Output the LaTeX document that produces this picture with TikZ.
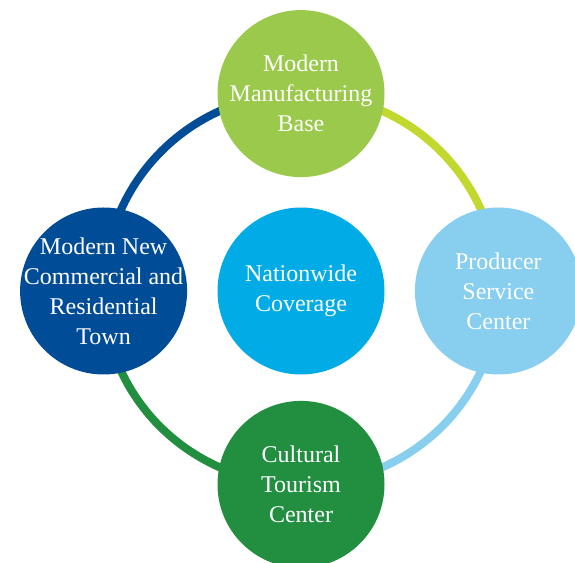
\documentclass[tikz,border=0pt]{standalone}
\usepackage{fontspec}
\setmainfont{Liberation Serif}
\usepackage{xcolor}
\usetikzlibrary{positioning, backgrounds}

\definecolor{mfggreen}{HTML}{9AC94B}
\definecolor{limearc}{HTML}{C2D82F}
\definecolor{skyblue}{HTML}{87CEEF}
\definecolor{tourgreen}{HTML}{218F3F}
\definecolor{townblue}{HTML}{004C97}
\definecolor{coreblue}{HTML}{00ABE6}

\begin{document}
\begin{tikzpicture}[x=1pt, y=1pt, node distance = 30pt, auto]
        \tikzset{hub/.style={circle, minimum size=167pt, inner sep=0pt},
                 hubtext/.style={text=white, align=center, inner sep=0pt, font=\fontsize{24}{30}\selectfont},
                 ring/.style={line width=8pt}}
        \useasboundingbox (0,0) rectangle (575,562);
        \node[hub,fill=coreblue,label={[hubtext]center:Nationwide\\Coverage}] (c) at (301,271) {};
        \node[hub,fill=mfggreen,label={[hubtext]center:Modern\\Manufacturing\\Base}] (1) [above = of c] {};
        \node[hub,fill=skyblue,label={[hubtext]center:Producer\\Service\\Center}] (2) [right = of c] {};
        \node[hub,fill=tourgreen,label={[hubtext]center:Cultural\\Tourism\\Center}] (3) [below = 26pt of c] {};
        \node[hub,fill=townblue,label={[hubtext]center:Modern New\\Commercial and\\Residential\\Town}] (4) [left = of c] {};

        \begin{scope}[on background layer]
        \draw[ring,color=limearc] (1.center) to[out=0,in=90] (2.center);
        \draw[ring,color=skyblue] (2.center) to[out=-90,in=0] (3.center);
        \draw[ring,color=tourgreen] (3.center) to[out=180,in=-90] (4.center);
        \draw[ring,color=townblue] (4.center) to[out=90,in=180] (1.center);
        \end{scope}
    \end{tikzpicture}
\end{document}
